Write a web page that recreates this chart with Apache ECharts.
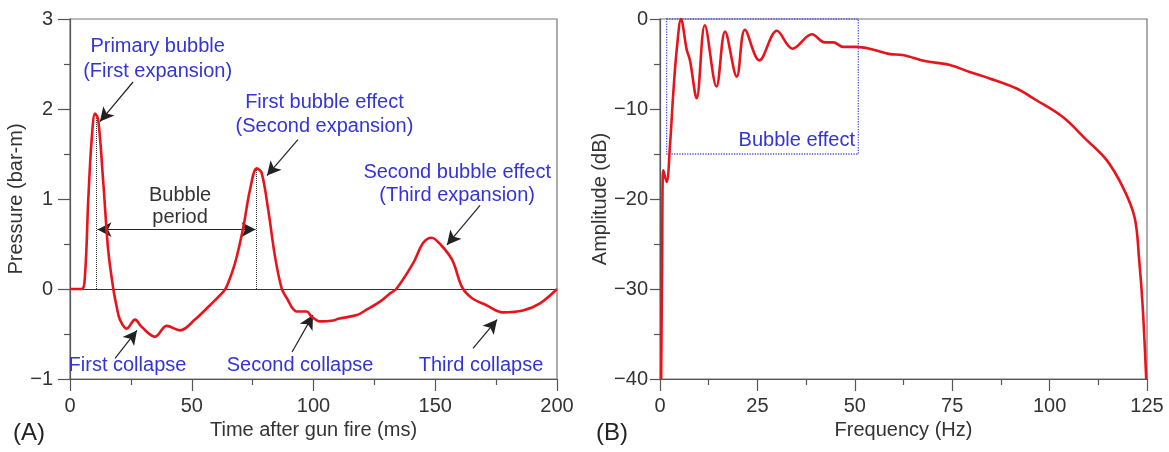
<!DOCTYPE html>
<html>
<head>
<meta charset="utf-8">
<script src="https://cdn.jsdelivr.net/npm/echarts@6/dist/echarts.min.js"></script>
<style>
  html, body { margin: 0; padding: 0; background: #fff; }
  #chart { width: 1169px; height: 452px; }
</style>
</head>
<body>
<div id="chart"></div>
<script>
// (A) pressure signature: [time ms, pressure bar-m]
var pulseData = [
  [0, 0], [4.8, 0], [6.2, 0.17], [7.5, 0.99], [8.9, 1.66], [10.3, 1.95], [11.6, 1.88],
  [13.7, 1.17], [15.7, 0.43], [17.8, 0], [19.2, -0.2], [20.5, -0.34], [23.3, -0.44],
  [26.7, -0.34], [29.4, -0.42], [34.9, -0.53], [39.7, -0.41], [45.2, -0.46], [51.3, -0.34],
  [57.5, -0.18], [63, -0.03], [64.4, 0.03], [67.8, 0.29], [71.2, 0.69], [73.9, 1.1],
  [76.7, 1.34], [78.7, 1.29], [81.4, 0.88], [84.2, 0.36], [86.9, 0.01], [89, -0.1],
  [93.1, -0.25], [97.2, -0.25], [99.3, -0.31], [102.7, -0.36], [108.1, -0.35], [110.2, -0.33],
  [117.8, -0.29], [121.8, -0.23], [127.3, -0.14], [131.4, -0.05], [134, 0], [141, 0.29],
  [145, 0.51], [148.5, 0.57], [152, 0.5], [157, 0.32], [161, 0.02], [165, -0.1],
  [171, -0.18], [177.7, -0.26], [186, -0.24], [193, -0.16], [200, 0]
];
// (B) amplitude spectrum: [frequency Hz, amplitude dB]
var spectrumData = [
  [0.3, -40], [0.55, -27], [0.85, -16.8], [1.7, -18.1], [2.6, -13.8], [3.4, -8.3],
  [4.3, -3.4], [5.4, 0], [6.85, -3.4], [7.7, -4.6], [9.4, -8.8], [11.5, -0.7],
  [14.5, -7.5], [16.7, -1.4], [19.7, -6.4], [21.8, -1.2], [25.5, -4.6], [30, -1.3],
  [34, -3.3], [39, -1.7], [42.3, -2.6], [44.5, -2.6], [47, -3.1], [50.4, -3.1],
  [53.8, -3.3], [59, -3.9], [62.3, -4.0], [68.3, -4.7], [74.4, -5.1], [79.5, -5.9],
  [84.6, -6.6], [91.4, -7.7], [96.5, -9.0], [103.4, -10.9], [109.4, -13.4], [114.5, -15.6],
  [118.7, -18.6], [121.8, -22], [123, -26.8], [123.9, -32], [124.8, -40]
];

// blue annotations on (A): [time, pressure, text]
var notesA = [
  [36, 2.69, 'Primary bubble'], [36, 2.42, '(First expansion)'],
  [104.5, 2.07, 'First bubble effect'], [104.5, 1.81, '(Second expansion)'],
  [159, 1.30, 'Second bubble effect'], [159, 1.04, '(Third expansion)'],
  [23.6, -0.85, 'First collapse'], [94.5, -0.85, 'Second collapse'], [168.8, -0.85, 'Third collapse']
];
var periodText = [[45.2, 1.04, 'Bubble'], [45.2, 0.79, 'period']];
// arrows on (A): [fromX, fromY, toX, toY]
var arrowsA = [
  [25.9, 2.30, 12.3, 1.86], [93.6, 1.66, 80.9, 1.26], [168.4, 0.93, 154.8, 0.49],
  [18.5, -0.77, 27.5, -0.46], [91.2, -0.70, 99.8, -0.29], [165.5, -0.66, 175.4, -0.34]
];
var periodArrow = [11.3, 0.66, 76.2, 0.66];
var peakMarks = [[10.8, 1.93], [76.3, 1.33]];
// bubble-effect box on (B): [f0, db0, f1, db1]
var bubbleBox = [1.7, 0, 50.9, -15];

var FONT = "'Liberation Sans', Arial, sans-serif";
var BLUE = '#3434d6';
var RED = '#e8141c';
var AX = '#555';

function minus(v) { return String(v).replace('-', '\u2212'); }

function axisBase(o) {
  return Object.assign({
    type: 'value',
    axisLine: { onZero: false, lineStyle: { color: AX, width: 1.2 } },
    axisTick: { length: 12, lineStyle: { color: AX, width: 1.2 } },
    minorTick: { show: true, splitNumber: 2, length: 6, lineStyle: { color: AX, width: 1.2 } },
    axisLabel: { fontSize: 20, color: '#333', fontFamily: FONT, margin: 17, formatter: minus },
    splitLine: { show: false },
    nameLocation: 'middle',
    nameTextStyle: { fontSize: 20, color: '#333', fontFamily: FONT }
  }, o);
}

function textSeries(list, color) {
  return {
    type: 'scatter', xAxisIndex: 0, yAxisIndex: 0, symbolSize: 0, z: 7,
    itemStyle: { opacity: 1 },
    data: list.map(function (n) { return { value: [n[0], n[1]], name: n[2] }; }),
    label: { show: true, position: 'inside', formatter: '{b}', fontSize: 20, color: color, fontFamily: FONT, opacity: 1 }
  };
}

var chart = echarts.init(document.getElementById('chart'));

var option = {
  animation: false,
  backgroundColor: '#fff',
  grid: [
    { left: 70, width: 487, top: 19, height: 360, show: true, borderColor: '#777', borderWidth: 1.2 },
    { left: 660, width: 487, top: 19, height: 360, show: true, borderColor: '#777', borderWidth: 1.2 }
  ],
  xAxis: [
    axisBase({ gridIndex: 0, min: 0, max: 200, interval: 50, name: 'Time after gun fire (ms)', nameGap: 38 }),
    axisBase({ gridIndex: 1, min: 0, max: 125, interval: 25, name: 'Frequency (Hz)', nameGap: 38 })
  ],
  yAxis: [
    axisBase({ gridIndex: 0, min: -1, max: 3, interval: 1, name: 'Pressure (bar-m)', nameGap: 36 }),
    axisBase({ gridIndex: 1, min: -40, max: 0, interval: 10, name: 'Amplitude (dB)', nameGap: 50,
      axisTick: { length: 10, lineStyle: { color: AX, width: 1.2 } },
      axisLabel: { fontSize: 20, color: '#333', fontFamily: FONT, margin: 12, formatter: minus } })
  ],
  graphic: [
    { type: 'text', left: 13, top: 421, style: { text: '(A)', fontSize: 24, fill: '#222', fontFamily: FONT } },
    { type: 'text', left: 596, top: 421, style: { text: '(B)', fontSize: 24, fill: '#222', fontFamily: FONT } }
  ],
  series: [
    {
      type: 'line', xAxisIndex: 0, yAxisIndex: 0, data: pulseData,
      smooth: 0.35, showSymbol: false, z: 5,
      lineStyle: { color: RED, width: 2.6 },
      markLine: {
        silent: true, symbol: 'none', label: { show: false },
        lineStyle: { color: '#333', width: 1.2, type: 'solid' },
        data: [[{ coord: [0, 0] }, { coord: [200, 0] }]]
      }
    },
    {
      type: 'line', xAxisIndex: 0, yAxisIndex: 0, data: [], z: 4,
      markLine: {
        silent: true, symbol: 'none', label: { show: false },
        lineStyle: { color: '#333', width: 1, type: 'dotted' },
        data: peakMarks.map(function (p) { return [{ coord: [p[0], 0] }, { coord: [p[0], p[1]] }]; })
      }
    },
    {
      type: 'line', xAxisIndex: 0, yAxisIndex: 0, data: [], z: 6,
      markLine: {
        silent: true, symbol: ['none', 'arrow'], symbolSize: [11, 14], label: { show: false },
        lineStyle: { color: '#222', width: 1.2, type: 'solid' },
        data: arrowsA.map(function (a) { return [{ coord: [a[0], a[1]] }, { coord: [a[2], a[3]] }]; })
          .concat([[{ coord: [periodArrow[0], periodArrow[1]], symbol: 'arrow' },
                    { coord: [periodArrow[2], periodArrow[3]] }]])
      }
    },
    textSeries(notesA, BLUE),
    textSeries(periodText, '#333'),
    {
      type: 'line', xAxisIndex: 1, yAxisIndex: 1, data: spectrumData,
      smooth: 0.35, showSymbol: false, z: 5,
      lineStyle: { color: RED, width: 2.6 },
      markArea: {
        silent: true,
        itemStyle: { color: 'rgba(0,0,0,0)', borderColor: '#5050e0', borderWidth: 1.3, borderType: 'dotted' },
        label: { show: true, position: 'insideBottomRight', distance: 4, fontSize: 20, color: BLUE, fontFamily: FONT },
        data: [[{ name: 'Bubble effect', coord: [bubbleBox[0], bubbleBox[1]] }, { coord: [bubbleBox[2], bubbleBox[3]] }]]
      }
    }
  ]
};

chart.setOption(option);
</script>
</body>
</html>
